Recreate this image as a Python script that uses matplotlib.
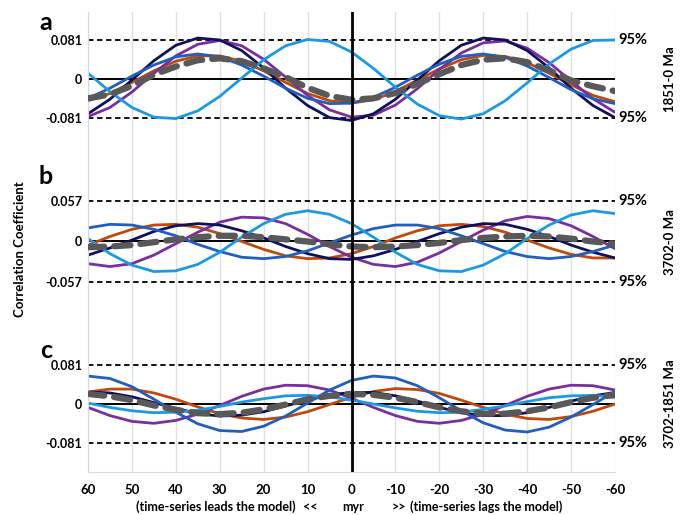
import numpy as np
import matplotlib.pyplot as plt

plt.rcParams['font.family'] = ['Lato', 'DejaVu Sans']

# lag in myr (positive: time-series leads the model)
lags = [60, 55, 50, 45, 40, 35, 30, 25, 20, 15, 10, 5, 0,
        -5, -10, -15, -20, -25, -30, -35, -40, -45, -50, -55, -60]

# panel a : 1851-0 Ma
a_navy = [-0.072, -0.042, -0.002, 0.038, 0.070, 0.085, 0.081, 0.059, 0.023, -0.019, -0.055, -0.080, -0.086,
          -0.072, -0.042, -0.002, 0.038, 0.070, 0.085, 0.081, 0.059, 0.023, -0.019, -0.055, -0.080]
a_purple = [-0.078, -0.059, -0.027, 0.012, 0.048, 0.072, 0.080, 0.069, 0.041, 0.004, -0.034, -0.064, -0.079,
            -0.075, -0.054, -0.020, 0.020, 0.054, 0.075, 0.079, 0.064, 0.034, -0.004, -0.041, -0.069]
a_orange = [-0.045, -0.030, -0.007, 0.017, 0.037, 0.048, 0.048, 0.037, 0.017, -0.007, -0.030, -0.045, -0.050,
            -0.043, -0.026, -0.002, 0.021, 0.040, 0.049, 0.047, 0.034, 0.012, -0.012, -0.034, -0.047]
a_blue = [-0.040, -0.019, 0.006, 0.029, 0.046, 0.052, 0.046, 0.029, 0.006, -0.019, -0.040, -0.051, -0.050,
          -0.038, -0.017, 0.008, 0.031, 0.047, 0.052, 0.045, 0.027, 0.003, -0.022, -0.041, -0.051]
a_light = [0.012, -0.026, -0.059, -0.079, -0.082, -0.066, -0.036, 0.002, 0.040, 0.069, 0.082, 0.078, 0.056,
           0.022, -0.017, -0.052, -0.076, -0.083, -0.072, -0.045, -0.008, 0.031, 0.062, 0.080, 0.081]
a_mean = [-0.040, -0.032, -0.014, 0.009, 0.026, 0.039, 0.043, 0.037, 0.022, 0.004, -0.018, -0.035, -0.043,
          -0.040, -0.029, -0.010, 0.010, 0.029, 0.040, 0.043, 0.035, 0.018, -0.003, -0.015, -0.025]

# panel b : 3702-0 Ma
b_navy = [-0.019, -0.009, 0.002, 0.014, 0.022, 0.025, 0.023, 0.015, 0.005, -0.007, -0.017, -0.024, -0.025,
          -0.020, -0.011, 0.000, 0.011, 0.020, 0.025, 0.024, 0.017, 0.007, -0.005, -0.015, -0.023]
b_purple = [-0.031, -0.035, -0.031, -0.019, -0.003, 0.013, 0.027, 0.034, 0.033, 0.025, 0.010, -0.007, -0.022,
            -0.032, -0.035, -0.029, -0.016, 0.000, 0.016, 0.029, 0.035, 0.032, 0.022, 0.007, -0.010]
b_orange = [-0.005, 0.007, 0.017, 0.023, 0.024, 0.020, 0.011, 0.000, -0.011, -0.020, -0.024, -0.023, -0.017,
            -0.007, 0.005, 0.015, 0.022, 0.024, 0.021, 0.013, 0.002, -0.009, -0.018, -0.023, -0.023]
b_blue = [0.019, 0.024, 0.023, 0.017, 0.008, -0.004, -0.014, -0.022, -0.024, -0.021, -0.013, -0.002, 0.009,
          0.018, 0.023, 0.023, 0.018, 0.008, -0.003, -0.014, -0.021, -0.024, -0.021, -0.014, -0.005]
b_light = [0.004, -0.017, -0.033, -0.042, -0.041, -0.032, -0.015, 0.006, 0.025, 0.038, 0.043, 0.038, 0.025,
           0.006, -0.015, -0.032, -0.041, -0.042, -0.033, -0.017, 0.004, 0.023, 0.037, 0.043, 0.039]
b_mean = [-0.008, -0.007, -0.005, -0.001, 0.003, 0.006, 0.008, 0.008, 0.006, 0.003, 0.000, -0.004, -0.007,
          -0.008, -0.007, -0.005, -0.002, 0.002, 0.005, 0.007, 0.008, 0.007, 0.004, 0.000, -0.003]

# panel c : 3702-1851 Ma
c_navy = [0.025, 0.023, 0.015, 0.003, -0.009, -0.020, -0.025, -0.023, -0.016, -0.004, 0.008, 0.019, 0.024,
          0.024, 0.017, 0.006, -0.007, -0.018, -0.024, -0.024, -0.018, -0.007, 0.006, 0.017, 0.024]
c_purple = [-0.007, -0.024, -0.036, -0.040, -0.034, -0.021, -0.003, 0.016, 0.031, 0.039, 0.038, 0.029, 0.012,
            -0.007, -0.024, -0.036, -0.040, -0.034, -0.021, -0.003, 0.016, 0.031, 0.039, 0.038, 0.029]
c_orange = [0.025, 0.031, 0.031, 0.023, 0.010, -0.006, -0.020, -0.029, -0.032, -0.027, -0.016, -0.001, 0.014,
            0.026, 0.032, 0.030, 0.022, 0.008, -0.007, -0.021, -0.030, -0.032, -0.026, -0.015, 0.000]
c_blue = [0.058, 0.053, 0.036, 0.010, -0.017, -0.041, -0.055, -0.057, -0.046, -0.025, 0.002, 0.029, 0.049,
          0.058, 0.054, 0.038, 0.013, -0.014, -0.039, -0.054, -0.058, -0.048, -0.027, -0.001, 0.026]
c_light = [0.002, -0.007, -0.014, -0.018, -0.017, -0.013, -0.005, 0.004, 0.011, 0.017, 0.018, 0.015, 0.008,
           0.000, -0.008, -0.015, -0.018, -0.017, -0.011, -0.004, 0.005, 0.013, 0.017, 0.018, 0.014]
c_mean = [0.021, 0.016, 0.008, -0.003, -0.012, -0.019, -0.021, -0.018, -0.011, -0.001, 0.010, 0.017, 0.021,
          0.019, 0.013, 0.004, -0.007, -0.015, -0.020, -0.020, -0.015, -0.007, 0.004, 0.013, 0.019]

thresholds = [0.081, 0.057, 0.081]
periods = ['1851-0 Ma', '3702-0 Ma', '3702-1851 Ma']
letters = ['a', 'b', 'c']
xticks = [60, 50, 40, 30, 20, 10, 0, -10, -20, -30, -40, -50, -60]

panels = [
    [a_orange, a_purple, a_navy, a_blue, a_light, a_mean],
    [b_orange, b_purple, b_navy, b_blue, b_light, b_mean],
    [c_orange, c_purple, c_navy, c_blue, c_light, c_mean],
]
colors = ['#c0490c', '#7a2ea0', '#10105c', '#1f5fbf', '#1a9ae6', '#595959']

W, H = 686, 515
fig = plt.figure(figsize=(W / 100, H / 100), dpi=100)

# pixel boxes: (top, bottom) and the y-range shown in each panel
boxes = [(12, 161.5), (161.5, 324), (324, 472)]
ylims = [(-0.171, 0.139), (-0.1153, 0.1118), (-0.141, 0.166)]
x0, x1 = 88, 615

axes = []
for i in range(3):
    top, bot = boxes[i]
    ax = fig.add_axes([x0 / W, 1 - bot / H, (x1 - x0) / W, (bot - top) / H])
    axes.append(ax)
    ax.set_xlim(60, -60)
    ax.set_ylim(*ylims[i])
    for s in ['top', 'right', 'bottom']:
        ax.spines[s].set_visible(False)
    ax.spines['left'].set_color('#d9d9d9')
    for t in xticks:
        ax.axvline(t, color='#e0e0e0', lw=1, zorder=0)
    ax.axvline(0, color='black', lw=2, zorder=4)
    ax.axhline(0, color='black', lw=1.4, zorder=1)
    thr = thresholds[i]
    for v in (thr, -thr):
        ax.axhline(v, color='black', lw=1.3, ls=(0, (3, 2)), zorder=1)
        ax.text(1.006, v, '95%', transform=ax.get_yaxis_transform(), va='center', ha='left',
                fontsize=10.5, fontweight='bold')

    for vals, c in zip(panels[i][:5], colors[:5]):
        ax.plot(lags, vals, color=c, lw=2.0, zorder=2, solid_capstyle='round', solid_joinstyle='round')
    ax.plot(lags, panels[i][5], color=colors[5], lw=4.5, ls=(0, (2.6, 1.6)),
            dash_capstyle='round', zorder=3)

    ax.set_yticks([thr, 0, -thr])
    ax.set_yticklabels([f'{thr:.3f}', '0', f'-{thr:.3f}'], fontsize=9, fontweight='bold')
    ax.tick_params(axis='y', length=0, pad=4)
    ax.set_xticks(xticks)
    if i < 2:
        ax.tick_params(axis='x', length=0, labelbottom=False)
    else:
        ax.spines['bottom'].set_visible(True)
        ax.spines['bottom'].set_color('#d9d9d9')
        ax.set_xticklabels([str(t) for t in xticks], fontsize=9.5, fontweight='bold')
        ax.tick_params(axis='x', length=0, pad=9)

    fig.text(670 / W, 1 - (79, 242, 404)[i] / H, periods[i], rotation=90, ha='center', va='center',
             fontsize=9.5, fontweight='bold')
    fig.text(46 / W, 1 - (22, 177, 350)[i] / H, letters[i], ha='center', va='center',
             fontsize=18, fontweight='bold')

fig.text(20 / W, 1 - 249 / H, 'Correlation Coefficient', rotation=90, ha='center', va='center',
         fontsize=9.5, fontweight='bold')

yb = 1 - 507 / H
fs = 9
fig.text(296 / W, yb, '(time-series leads the model)', ha='right', va='center', fontsize=fs, fontweight='bold')
fig.text(310 / W, yb, '<<', ha='center', va='center', fontsize=fs, fontweight='bold')
fig.text(353 / W, yb, 'myr', ha='center', va='center', fontsize=fs, fontweight='bold')
fig.text(399 / W, yb, '>>', ha='center', va='center', fontsize=fs, fontweight='bold')
fig.text(410 / W, yb, '(time-series lags the model)', ha='left', va='center', fontsize=fs, fontweight='bold')

fig.savefig('out.png', dpi=100)
